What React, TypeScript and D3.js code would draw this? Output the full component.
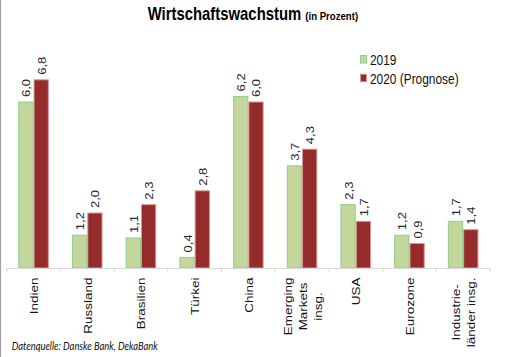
import React from "react";
import * as d3 from "d3";

const categories: string[][] = [
  ["Indien"],
  ["Russland"],
  ["Brasilien"],
  ["Türkei"],
  ["China"],
  ["Emerging", "Markets", "insg."],
  ["USA"],
  ["Eurozone"],
  ["Industrie-", "länder insg."],
];
const seriesNames = ["2019", "2020 (Prognose)"];
const values2019 = [6.0, 1.2, 1.1, 0.4, 6.2, 3.7, 2.3, 1.2, 1.7];
const values2020 = [6.8, 2.0, 2.3, 2.8, 6.0, 4.3, 1.7, 0.9, 1.4];
const fills = ["#c3d69b", "#962b2b"];
const strokes = ["#8fd08f", "#d89a98"];

const W = 506;
const H = 357;
const FONT = "'Liberation Sans', Arial, sans-serif";
const SX = 0.85;

let ctx: CanvasRenderingContext2D | null = null;
function measure(text: string, size: number): number {
  if (!ctx) ctx = document.createElement("canvas").getContext("2d");
  if (!ctx) return text.length * size * 0.55;
  ctx.font = `${size}px 'Liberation Sans', Arial, sans-serif`;
  return ctx.measureText(text).width;
}

const fmt = (v: number) => v.toFixed(1).replace(".", ",");

export default function App() {
  const axisY = 268;
  const keys = categories.map((c) => c.join(" "));
  const x = d3.scaleBand<string>().domain(keys).range([6.7, 490]).paddingInner(0).paddingOuter(0);
  const x1 = d3
    .scaleBand<number>()
    .domain([0, 1])
    .range([0, x.bandwidth()])
    .paddingInner(0)
    .paddingOuter(0.755);
  const y = d3.scaleLinear().domain([0, 7]).range([axisY, axisY - 7 * 27.75]);
  const series = [values2019, values2020];

  const tickXs = keys.map((k) => x(k) as number).concat([x.range()[1]]);
  const catSize = 13.5;
  const lblSize = 13;

  return (
    <svg
      width={W}
      height={H}
      style={{ position: "absolute", left: 0, top: 0, background: "#fff" }}
      fontFamily={FONT}
    >
      <rect x={0} y={0} width={W} height={H} fill="#fff" />
      <line x1={0.5} x2={0.5} y1={0} y2={H} stroke="#a0a0a0" strokeWidth={1.2} />

      {/* Title */}
      <g transform={`translate(147.7,19.5) scale(${SX},1)`}>
        <text fontWeight="bold" fontSize={17.5} fill="#000">
          Wirtschaftswachstum
          <tspan fontSize={11.3} dx={4.8}>
            (in Prozent)
          </tspan>
        </text>
      </g>

      {/* Legend */}
      {seriesNames.map((name, i) => (
        <g key={name}>
          <rect
            x={360.5}
            y={55.5 + i * 18.7}
            width={6}
            height={7.5}
            fill={fills[i]}
            stroke={strokes[i]}
            strokeWidth={1}
          />
          <g transform={`translate(370,${65 + i * 18.5}) scale(${SX},1)`}>
            <text fontSize={14} fill="#111">
              {name}
            </text>
          </g>
        </g>
      ))}

      {/* Bars */}
      {keys.map((k, ci) =>
        series.map((vals, si) => {
          const bx = (x(k) as number) + (x1(si) as number);
          const bw = x1.bandwidth();
          const top = y(vals[ci]);
          return (
            <rect
              key={`${k}-${si}`}
              x={bx + 0.5}
              y={top + 0.5}
              width={bw - 1}
              height={axisY - top - 0.5}
              fill={fills[si]}
              stroke={strokes[si]}
              strokeWidth={1}
            />
          );
        })
      )}

      {/* Axis */}
      <line x1={tickXs[0]} x2={tickXs[tickXs.length - 1]} y1={axisY + 0.5} y2={axisY + 0.5} stroke="#d9d9d9" />
      {tickXs.map((tx, i) => (
        <line key={i} x1={tx} x2={tx} y1={axisY} y2={axisY + 4} stroke="#d9d9d9" />
      ))}

      {/* Value labels */}
      {keys.map((k, ci) =>
        series.map((vals, si) => {
          const cx = (x(k) as number) + (x1(si) as number) + x1.bandwidth() / 2;
          const top = y(vals[ci]);
          return (
            <text
              key={`l-${k}-${si}`}
              transform={`translate(${cx + 4.5},${top - 4.5}) rotate(-90) scale(1,${SX})`}
              fontSize={lblSize}
              fill="#262626"
            >
              {fmt(vals[ci])}
            </text>
          );
        })
      )}

      {/* Category labels */}
      {categories.map((lines, ci) => {
        const cx = (x(keys[ci]) as number) + x.bandwidth() / 2;
        const maxW = Math.max(...lines.map((l) => measure(l, catSize)));
        const ly = axisY + 9.5 + maxW / 2;
        const n = lines.length;
        return lines.map((line, li) => {
          const lx = cx + (li - (n - 1) / 2) * 15 + 4.5;
          return (
            <text
              key={`c-${ci}-${li}`}
              transform={`translate(${lx},${ly}) rotate(-90) scale(1,${SX})`}
              fontSize={catSize}
              textAnchor="middle"
              fill="#111"
            >
              {line}
            </text>
          );
        });
      })}

      {/* Source */}
      <text
        x={11.7}
        y={350}
        fontSize={11}
        fontStyle="italic"
        fontFamily="Lato, 'Liberation Sans', sans-serif"
        textLength={146}
        lengthAdjust="spacingAndGlyphs"
        fill="#111"
      >
        Datenquelle: Danske Bank, DekaBank
      </text>
    </svg>
  );
}
